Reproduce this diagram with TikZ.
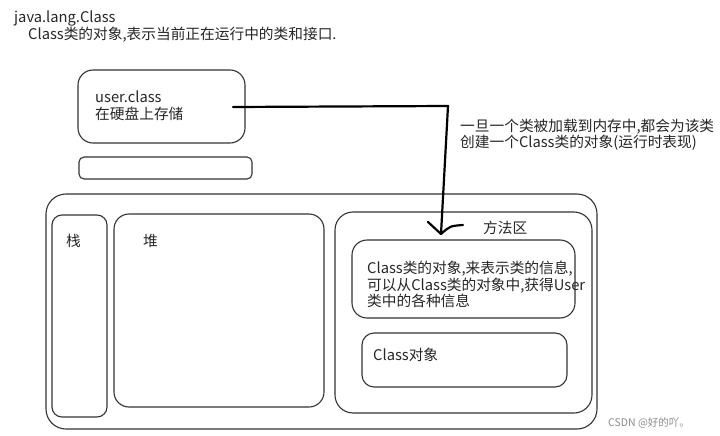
\documentclass[tikz,border=0pt]{standalone}
\usepackage{fontspec}
\setmainfont{Noto Sans CJK SC}
\begin{document}
\begin{tikzpicture}[x=1pt,y=-1pt,
  box/.style={draw=black!80,line width=1.1pt},
  txt/.style={anchor=base west,inner sep=0pt,font=\fontsize{14.7}{16}\selectfont,text=black!85},
  conn/.style={draw=black,line width=2.2pt,line join=round,line cap=round}]
\useasboundingbox[fill=white] (0,0) rectangle (720,436);
% title
\node[txt] (t1) at (14,23) {java.lang.Class};
\node[txt] (t2) at (28,40) {Class类的对象,表示当前正在运行中的类和接口.};
% user.class box
\draw[box,rounded corners=15pt] (78,70) rectangle (245,143);
\node[txt] (u1) at (95,102) {user.class};
\node[txt] (u2) at (95,119) {在硬盘上存储};
\draw[box,rounded corners=5pt] (79,157) rectangle (252,179);
% outer
\draw[box,rounded corners=20pt] (46,194) rectangle (597,429);
\draw[box,rounded corners=10pt] (52,215) rectangle (107,417);
\node[txt] (zhan) at (66,246) {栈};
\draw[box,rounded corners=15pt] (114,214) rectangle (324,407);
\node[txt] (dui) at (143,246) {堆};
\draw[box,rounded corners=18pt] (335,212) rectangle (592,413);
\node[txt] (ff) at (483,233) {方法区};
\draw[box,rounded corners=15pt] (352,240) rectangle (575,318);
\node[txt] (c1) at (367,273) {Class类的对象,来表示类的信息,};
\node[txt] (c2) at (367,290) {可以从Class类的对象中,获得User};
\node[txt] (c3) at (367,306) {类中的各种信息};
\draw[box,rounded corners=12pt] (362,333) rectangle (567,387);
\node[txt] (co) at (373,360) {Class对象};
% annotation
\node[txt] (a1) at (460,131) {一旦一个类被加载到内存中,都会为该类};
\node[txt] (a2) at (460,147) {创建一个Class类的对象(运行时表现)};
% arrow
\coordinate (s) at (233,107);
\coordinate (b) at (448,106);
\coordinate (tip) at (441,234);
\draw[conn] (s) -- (b) -- (tip);
\draw[conn] (428,222) .. controls (434,228) .. (tip) .. controls (450,226) .. (463,225);
% watermark
\node[anchor=base west,inner sep=0pt,font=\fontsize{10.5}{12}\selectfont,text=black!45] (wm) at (608,426) {CSDN @好的吖。};
\end{tikzpicture}
\end{document}
